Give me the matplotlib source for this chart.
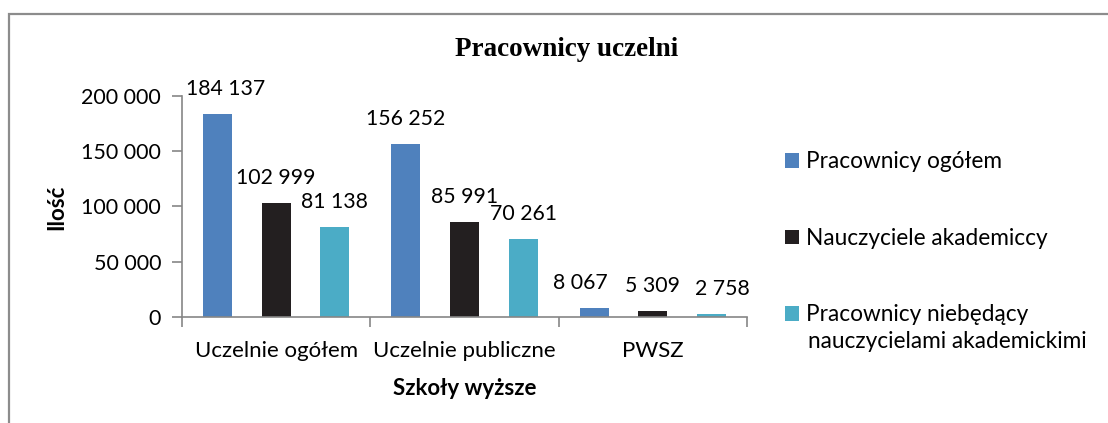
import numpy as np
import matplotlib.pyplot as plt
from matplotlib.patches import Rectangle, Patch

# dane z wykresu
categories = ["Uczelnie ogółem", "Uczelnie publiczne", "PWSZ"]
series_names = ["Pracownicy ogółem", "Nauczyciele akademiccy",
                "Pracownicy niebędący"]
last_label_line2 = "nauczycielami akademickimi"
pracownicy = [184137, 156252, 8067]
nauczyciele = [102999, 85991, 5309]
nienauczyciele = [81138, 70261, 2758]
yticks = [0, 50000, 100000, 150000, 200000]
ytick_labels = ["0", "50 000", "100 000", "150 000", "200 000"]

colors = ["#4F81BD", "#231F20", "#4BACC6"]
axis_gray = "#868686"

plt.rcParams["font.family"] = ["Lato", "DejaVu Sans"]

fig = plt.figure(figsize=(11.08, 4.23), dpi=100)
ax = fig.add_axes([0.1643, 0.2506, 0.5099, 0.5225])

# ramka wykresu (widac tylko gorna i lewa krawedz)
fig.patches.append(Rectangle((9 / 1108, -0.1), 1.2, 1 - 14 / 423 + 0.1,
                             transform=fig.transFigure, fill=False,
                             edgecolor="#8c8c8c", linewidth=1.6))

x = np.arange(len(categories))
offset = 0.311
width = 0.154
all_series = [pracownicy, nauczyciele, nienauczyciele]
# excel przesuwa niektore etykiety zeby sie nie nachodzily
label_dx = [[6, 0, -10], [0, 0, 0], [0, 0, 8]]
for i, vals in enumerate(all_series):
    pos = x + (i - 1) * offset
    ax.bar(pos, vals, width, color=colors[i])
    for j, (px, v) in enumerate(zip(pos, vals)):
        ax.annotate(f"{v:,}".replace(",", " "), (px, v),
                    xytext=(label_dx[i][j], 18),
                    textcoords="offset points", ha="center", va="center",
                    fontsize=15.3)

ax.set_xlim(-0.5, 2.5)
ax.set_ylim(0, 200000)
ax.set_yticks(yticks)
ax.set_yticklabels(ytick_labels, fontsize=15.5)
ax.set_xticks(x)
ax.set_xticklabels(categories, fontsize=16)
ax.set_xticks([-0.5, 0.5, 1.5, 2.5], minor=True)
ax.tick_params(axis="x", which="major", length=0, pad=17)
ax.tick_params(axis="x", which="minor", length=7, color=axis_gray, width=1.2)
ax.tick_params(axis="y", length=7, color=axis_gray, width=1.2, pad=8)

for s in ["top", "right"]:
    ax.spines[s].set_visible(False)
for s in ["left", "bottom"]:
    ax.spines[s].set_color(axis_gray)
    ax.spines[s].set_linewidth(1.2)

fig.text(567 / 1108, 1 - 50 / 423, "Pracownicy uczelni", ha="center",
         va="center", fontsize=19.5, fontweight="bold",
         family=["Liberation Serif"])
fig.text(57 / 1108, 1 - 207 / 423, "Ilość", rotation=90, ha="center",
         va="center", fontsize=16, fontweight="bold")
fig.text(465 / 1108, 1 - 388 / 423, "Szkoły wyższe", ha="center",
         va="center", fontsize=16, fontweight="bold")

handles = [Patch(facecolor=c) for c in colors]
fig.legend(handles, series_names, loc="upper left",
           bbox_to_anchor=(765 / 1108, 1 - 131 / 423), frameon=False,
           fontsize=16.3, handlelength=0.6, handleheight=0.6,
           handletextpad=0.3, labelspacing=2.45)
fig.text(808 / 1108, 1 - 341 / 423, last_label_line2, ha="left",
         va="center", fontsize=16.3)

plt.savefig("out.png", dpi=100)
